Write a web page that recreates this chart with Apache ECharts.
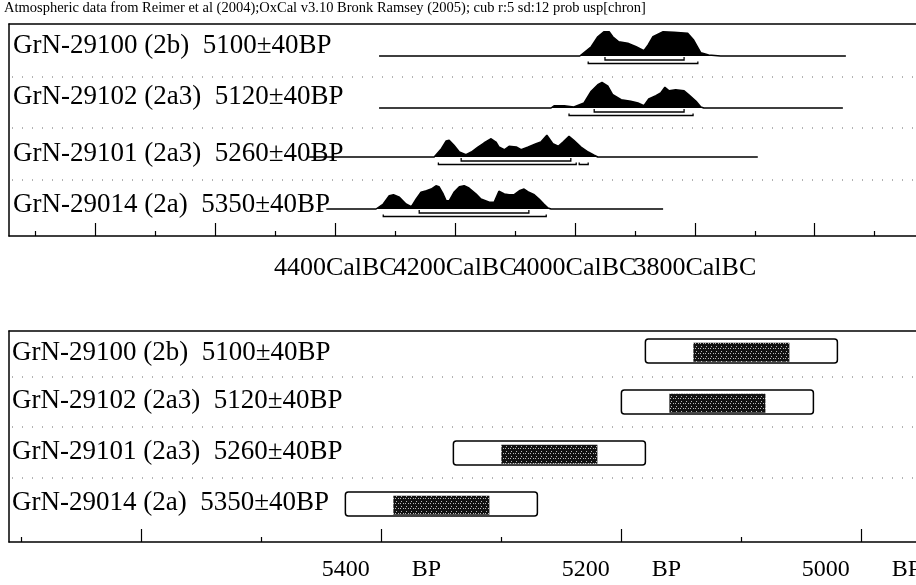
<!DOCTYPE html>
<html>
<head>
<meta charset="utf-8">
<script src="https://cdn.jsdelivr.net/npm/echarts@6/dist/echarts.min.js"></script>
<style>
html,body{margin:0;padding:0;background:#fff;}
#chart{width:916px;height:585px;}
</style>
</head>
<body>
<div id="chart"></div>
<script>
// ---------------- data ----------------
const headerText = 'Atmospheric data from Reimer et al (2004);OxCal v3.10 Bronk Ramsey (2005); cub r:5 sd:12 prob usp[chron]';
const sampleLabels = [
  'GrN-29100 (2b)  5100\u00b140BP',
  'GrN-29102 (2a3)  5120\u00b140BP',
  'GrN-29101 (2a3)  5260\u00b140BP',
  'GrN-29014 (2a)  5350\u00b140BP'
];
const bpMeans = [5100, 5120, 5260, 5350];
const bpSigmas = [40, 40, 40, 40];

// calibrated probability distributions: [cal BC, relative probability]
const distGrN29100 = [[4327,0],[3992,0],[3973,0.37],[3962,0.77],[3952,0.97],[3943,0.97],[3937,0.77],[3927,0.57],[3912,0.51],[3898,0.37],[3885,0.21],[3878,0.44],[3870,0.77],[3853,0.97],[3835,0.95],[3812,0.91],[3802,0.64],[3790,0.13],[3777,0.04],[3757,0],[3548,0]];
const distGrN29102 = [[4327,0],[4040,0],[4035,0.09],[4018,0.09],[4002,0.04],[3985,0.2],[3973,0.67],[3962,0.93],[3955,1.02],[3945,0.87],[3937,0.53],[3923,0.33],[3907,0.27],[3895,0.2],[3885,0.09],[3877,0.36],[3865,0.49],[3857,0.6],[3850,0.83],[3843,0.69],[3832,0.73],[3818,0.69],[3810,0.53],[3798,0.27],[3790,0.04],[3785,0],[3553,0]];
const distGrN29101 = [[4445,0],[4235,0],[4223,0.33],[4215,0.64],[4210,0.67],[4202,0.47],[4193,0.2],[4182,0.09],[4173,0.2],[4162,0.4],[4152,0.56],[4140,0.73],[4132,0.6],[4127,0.4],[4118,0.29],[4110,0.43],[4098,0.4],[4090,0.29],[4078,0.4],[4065,0.53],[4057,0.6],[4047,0.87],[4037,0.53],[4028,0.43],[4020,0.6],[4010,0.83],[4002,0.67],[3990,0.4],[3978,0.2],[3968,0.07],[3962,0],[3695,0]];
const distGrN29014 = [[4415,0],[4332,0],[4320,0.2],[4310,0.53],[4303,0.57],[4293,0.47],[4282,0.2],[4273,0.09],[4265,0.4],[4257,0.67],[4248,0.73],[4240,0.8],[4232,0.93],[4227,0.89],[4220,0.6],[4215,0.33],[4210,0.33],[4202,0.67],[4193,0.89],[4185,0.93],[4177,0.84],[4165,0.6],[4157,0.4],[4143,0.27],[4135,0.27],[4127,0.71],[4118,0.6],[4110,0.57],[4102,0.57],[4093,0.73],[4085,0.8],[4077,0.67],[4068,0.57],[4060,0.4],[4052,0.2],[4045,0.04],[4040,0],[3853,0]];
const distributions = [distGrN29100, distGrN29102, distGrN29101, distGrN29014];

// 68.2% and 95.4% ranges (cal BC from, to)
const sigma1Ranges = [[[3950,3818]], [[3968,3818]], [[4190,4007]], [[4260,4077]]];
const sigma2Ranges = [[[3978,3795]], [[4010,3803]], [[4228,3998],[3993,3978]], [[4320,4048]]];

// axis ticks
const calMajorTicks = [4800,4600,4400,4200,4000,3800,3600];
const calMinorTicks = [4900,4700,4500,4300,4100,3900,3700,3500];
const calLabelTicksA = [4400,4000];
const calLabelTicksB = [4200,3800];
const bpMajorTicks = [5600,5400,5200,5000];
const bpMinorTicks = [5700,5500,5300,5100];
const bpLabelTicks = [5400,5200,5000];

// ---------------- layout ----------------
const FONT = "'Liberation Serif','DejaVu Serif',serif";
const CAL_MIN = 3431, CAL_MAX = 4944.5;
const BP_MIN = 4954.5, BP_MAX = 5710.3;
const rowBaselines = [56, 108, 157, 209];
const topLabelY = [46, 97, 154, 205];
const botLabelY = [353, 401, 452, 503];
const separatorsY = [77, 128, 180, 377, 427, 478];

const chart = echarts.init(document.getElementById('chart'), null, {renderer: 'canvas'});

// halftone-like fill for the inner 1-sigma boxes
const pat = document.createElement('canvas');
pat.width = 5; pat.height = 5;
(function(){
  const c = pat.getContext('2d');
  c.fillStyle = '#111'; c.fillRect(0,0,5,5);
  c.fillStyle = '#bbb';
  c.fillRect(1,1,1,1); c.fillRect(3,3,1,1); c.fillRect(0,3,1,1);
})();

const grids = [];
const xAxes = [];
const yAxes = [];
const series = [];
const lineStyleK = {color: '#000', width: 1.5};

function framePanel(gi, min, max, minorTicks, majorTicks, labelsA, labelsB, labelCfg) {
  // bottom axis with minor ticks and first set of labels
  xAxes.push({
    type: 'value', gridIndex: gi, inverse: true, min: min, max: max, position: 'bottom',
    splitLine: {show: false},
    axisLine: {show: true, onZero: false, lineStyle: lineStyleK},
    axisTick: {show: true, inside: true, length: 5, customValues: minorTicks, lineStyle: {color: '#000', width: 1.2}},
    axisLabel: Object.assign({show: true, customValues: labelsA, hideOverlap: false, color: '#000', fontFamily: FONT}, labelCfg)
  });
  // bottom axis with major ticks and second set of labels
  xAxes.push({
    type: 'value', gridIndex: gi, inverse: true, min: min, max: max, position: 'bottom',
    splitLine: {show: false},
    axisLine: {show: false, onZero: false},
    axisTick: {show: true, inside: true, length: 13, customValues: majorTicks, lineStyle: {color: '#000', width: 1.2}},
    axisLabel: labelsB.length ? Object.assign({show: true, customValues: labelsB, hideOverlap: false, color: '#000', fontFamily: FONT}, labelCfg) : {show: false}
  });
  // top frame line
  xAxes.push({
    type: 'value', gridIndex: gi, inverse: true, min: min, max: max, position: 'top',
    splitLine: {show: false},
    axisLine: {show: true, onZero: false, lineStyle: lineStyleK},
    axisTick: {show: false}, axisLabel: {show: false}
  });
}

// top panel frame
grids.push({left: 9, right: 0, top: 24, bottom: 585 - 236, show: false, outerBoundsMode: 'none', containLabel: false});
framePanel(0, CAL_MIN, CAL_MAX, calMinorTicks, calMajorTicks, calLabelTicksA, calLabelTicksB,
  {margin: 19, fontSize: 26, formatter: v => v + 'CalBC'});
yAxes.push({type: 'value', gridIndex: 0, min: 0, max: 1, position: 'left',
  axisLine: {show: true, onZero: false, lineStyle: lineStyleK}, axisTick: {show: false}, axisLabel: {show: false}, splitLine: {show: false}});
series.push({type: 'line', xAxisIndex: 0, yAxisIndex: 0, data: [], silent: true});

// row grids for calibrated distributions
distributions.forEach((dist, i) => {
  const b = rowBaselines[i];
  const gi = grids.length;
  grids.push({left: 9, right: 0, top: b - 27.5, height: 38.75, show: false, outerBoundsMode: 'none'});
  const xi = xAxes.length;
  xAxes.push({type: 'value', gridIndex: gi, inverse: true, min: CAL_MIN, max: CAL_MAX, show: false});
  const yi = yAxes.length;
  yAxes.push({type: 'value', gridIndex: gi, min: -0.45, max: 1.1, show: false});
  series.push({
    type: 'line', xAxisIndex: xi, yAxisIndex: yi, data: dist, symbol: 'none', silent: true,
    animation: false, clip: false,
    lineStyle: {color: '#000', width: 1.5},
    areaStyle: {color: '#000', opacity: 1}
  });
  const rangeData = sigma1Ranges[i].map(r => [r[0], r[1], 1]).concat(sigma2Ranges[i].map(r => [r[0], r[1], 2]));
  series.push({
    type: 'custom', xAxisIndex: xi, yAxisIndex: yi, data: rangeData, silent: true, animation: false,
    encode: {x: [0, 1], y: 2},
    renderItem: function (params, api) {
      const a = api.value(0), c = api.value(1), kind = api.value(2);
      let pts;
      if (kind === 1) {
        pts = [api.coord([a, -0.04]), api.coord([a, -0.16]), api.coord([c, -0.16]), api.coord([c, -0.04])];
      } else {
        pts = [api.coord([a, -0.22]), api.coord([a, -0.3]), api.coord([c, -0.3]), api.coord([c, -0.22])];
      }
      return {type: 'polyline', shape: {points: pts}, style: {stroke: '#000', lineWidth: 1.3, fill: null}};
    }
  });
});

// bottom panel
const bgi = grids.length;
grids.push({left: 9, right: 0, top: 331, bottom: 585 - 542, show: false, outerBoundsMode: 'none', containLabel: false});
const bxi = xAxes.length;
framePanel(bgi, BP_MIN, BP_MAX, bpMinorTicks, bpMajorTicks, bpLabelTicks, [], {
  margin: 16, fontSize: 24,
  formatter: v => '{n|' + v + '}{g|}{u|BP}',
  rich: {n: {fontFamily: FONT, fontSize: 24, color: '#000'}, g: {width: 42}, u: {fontFamily: FONT, fontSize: 24, color: '#000'}}
});
const byi = yAxes.length;
yAxes.push({type: 'value', gridIndex: bgi, inverse: true, min: -0.392, max: 3.745, position: 'left',
  axisLine: {show: true, onZero: false, lineStyle: lineStyleK}, axisTick: {show: false}, axisLabel: {show: false}, splitLine: {show: false}});
const boxData = bpMeans.map((m, i) => [m, bpSigmas[i], i]);
series.push({
  type: 'custom', xAxisIndex: bxi, yAxisIndex: byi, data: boxData, silent: true, animation: false,
  encode: {x: 0, y: 2},
  renderItem: function (params, api) {
    const m = api.value(0), s = api.value(1), r = api.value(2);
    const o1 = api.coord([m + 2 * s, r - 0.235]);
    const o2 = api.coord([m - 2 * s, r + 0.235]);
    const i1 = api.coord([m + s, r - 0.16]);
    const i2 = api.coord([m - s, r + 0.21]);
    return {type: 'group', children: [
      {type: 'rect', shape: {x: o1[0], y: o1[1], width: o2[0] - o1[0], height: o2[1] - o1[1], r: 3},
        style: {fill: '#fff', stroke: '#000', lineWidth: 1.5}},
      {type: 'rect', shape: {x: i1[0], y: i1[1], width: i2[0] - i1[0], height: i2[1] - i1[1]},
        style: {fill: {image: pat, repeat: 'repeat'}, stroke: null}}
    ]};
  }
});

// text elements
const graphics = [];
graphics.push({type: 'text', left: 4, top: 1, style: {text: headerText, font: '14.5px ' + FONT, fill: '#000'}, z: 10});
sampleLabels.forEach((t, i) => {
  graphics.push({type: 'text', x: 13, y: topLabelY[i], style: {text: t, font: '27px ' + FONT, fill: '#000', verticalAlign: 'middle', textVerticalAlign: 'middle'}, z: 10});
  graphics.push({type: 'text', x: 12, y: botLabelY[i], style: {text: t, font: '27px ' + FONT, fill: '#000', verticalAlign: 'middle', textVerticalAlign: 'middle'}, z: 10});
});
separatorsY.forEach(y => {
  graphics.push({type: 'line', shape: {x1: 12, y1: y, x2: 916, y2: y}, style: {stroke: '#666', lineWidth: 1, lineDash: [1, 9]}, z: 5});
});

chart.setOption({
  animation: false,
  backgroundColor: '#fff',
  grid: grids,
  xAxis: xAxes,
  yAxis: yAxes,
  series: series,
  graphic: graphics
});
</script>
</body>
</html>
